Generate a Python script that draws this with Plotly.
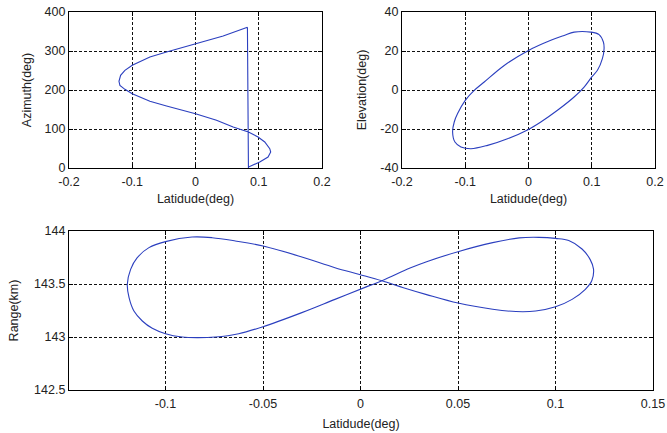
import plotly.graph_objects as go

# Azimuth vs latitude (azimuth wraps 360 -> 0)
lat_az = [0.0821, 0.0837, 0.0837, 0.1016, 0.1147, 0.1189, 0.1174, 0.1095, 0.0989, 0.0837,
          0.0595, 0.0332, 0.0, -0.0458, -0.0721, -0.1, -0.1116, -0.1195,
          -0.121, -0.1184, -0.1116, -0.1, -0.0721, -0.0458, 0.0, 0.0437, 0.0821]
azimuth = [360.7, 0.0, 2.6, 15.4, 28.2, 41.0, 49.6, 66.7, 79.5, 92.3,
           105.1, 122.2, 139.3, 159.0, 171.0, 190.6, 201.7, 212.0,
           222.2, 237.6, 250.4, 263.2, 284.6, 297.4, 318.8, 338.5, 360.7]

# Elevation vs latitude
lat_el = [0.0, 0.0353, 0.0563, 0.0721, 0.0984, 0.1116, 0.1184, 0.1195, 0.1168, 0.109,
          0.1, 0.0879, 0.0721, 0.0458, 0.0195, 0.0, -0.0332, -0.0647, -0.091,
          -0.1068, -0.1163, -0.12, -0.1174, -0.1121, -0.1, -0.0858, -0.07, -0.0384, 0.0]
elevation = [20.3, 25.5, 28.0, 29.7, 29.7, 28.4, 24.6, 21.2, 16.1, 10.1,
             6.7, 1.5, -3.6, -10.4, -16.4, -20.2, -25.0, -28.4, -30.1,
             -29.2, -26.7, -21.5, -16.4, -12.1, -5.3, -0.2, 4.1, 12.6, 20.3]

# Slant range vs latitude (figure-eight)
lat_rng = [0.011, 0.0254, 0.0339, 0.05, 0.0678, 0.0814, 0.0915, 0.1, 0.1068, 0.1136,
           0.1178, 0.1195, 0.1186, 0.1153, 0.1085, 0.1, 0.0898, 0.0797, 0.0678,
           0.05, 0.0339, 0.022, 0.011, -0.0005, -0.0131, -0.0301, -0.05, -0.0642,
           -0.0761, -0.0864, -0.1, -0.1085, -0.1145, -0.1179, -0.1196, -0.1187,
           -0.1162, -0.1119, -0.1068, -0.1, -0.0915, -0.0838, -0.0744, -0.0625,
           -0.05, -0.0301, -0.0131, 0.0039, 0.011]
range_km = [143.53, 143.65, 143.71, 143.805, 143.89, 143.935, 143.94, 143.93, 143.91, 143.83,
            143.73, 143.64, 143.53, 143.45, 143.355, 143.285, 143.245, 143.24, 143.262,
            143.32, 143.40, 143.465, 143.53, 143.59, 143.654, 143.755, 143.858, 143.906,
            143.937, 143.943, 143.90, 143.843, 143.748, 143.638, 143.497, 143.371,
            143.245, 143.151, 143.082, 143.031, 143.0, 142.994, 143.0, 143.031,
            143.097, 143.23, 143.355, 143.48, 143.53]

top_x_ticks = [-0.2, -0.1, 0, 0.1, 0.2]
top_x_text = ["-0.2", "-0.1", "0", "0.1", "0.2"]
az_ticks = [0, 100, 200, 300, 400]
el_ticks = [-40, -20, 0, 20, 40]
el_text = ["-40", "-20", "0", "20", "40"]
bot_x_ticks = [-0.1, -0.05, 0, 0.05, 0.1, 0.15]
bot_x_text = ["-0.1", "-0.05", "0", "0.05", "0.1", "0.15"]
rng_ticks = [142.5, 143, 143.5, 144]
rng_text = ["142.5", "143", "143.5", "144"]

W, H = 667, 433
ML, MR, MT, MB = 69, 12, 12, 43
PW, PH = W - ML - MR, H - MT - MB
LINE = "#2b3fbf"
FONT = dict(family="Liberation Sans, Arial, sans-serif", size=12.5, color="#222222")

fig = go.Figure()
fig.add_trace(go.Scatter(x=lat_az, y=azimuth, mode="lines", line=dict(color=LINE, width=1.1),
                         xaxis="x", yaxis="y", showlegend=False))
fig.add_trace(go.Scatter(x=lat_el, y=elevation, mode="lines",
                         line=dict(color=LINE, width=1.1, shape="spline", smoothing=1.0),
                         xaxis="x2", yaxis="y2", showlegend=False))
fig.add_trace(go.Scatter(x=lat_rng, y=range_km, mode="lines",
                         line=dict(color=LINE, width=1.1, shape="spline", smoothing=1.0),
                         xaxis="x3", yaxis="y3", showlegend=False))


def ax(dom, rng, tv, tt, title, anchor, standoff, lab_off=0):
    return dict(domain=dom, range=rng, tickvals=tv, ticktext=tt, anchor=anchor,
                automargin=False,
                showline=True, linecolor="black", linewidth=1.2, mirror="ticks",
                ticks="inside", ticklen=4, tickcolor="black",
                ticklabelstandoff=lab_off,
                showgrid=True, gridcolor="#111111", gridwidth=0.8, griddash="3px,2px",
                zeroline=False, tickfont=FONT,
                title=dict(text=title, font=FONT, standoff=standoff))


def px_x(a, b):
    return [(a - ML) / PW, (b - ML) / PW]


def px_y(top, bottom):
    return [1 - (bottom - MT) / PH, 1 - (top - MT) / PH]


fig.update_layout(
    width=W, height=H,
    margin=dict(l=ML, r=MR, t=MT, b=MB),
    paper_bgcolor="white", plot_bgcolor="white",
    font=FONT,
    xaxis=ax(px_x(69, 322), [-0.2, 0.2], top_x_ticks, top_x_text, "Latidude(deg)", "y", 6, 2),
    yaxis=ax(px_y(12, 168), [0, 400], az_ticks, [str(v) for v in az_ticks], "Azimuth(deg)", "x", 10),
    xaxis2=ax(px_x(402, 655), [-0.2, 0.2], top_x_ticks, top_x_text, "Latidude(deg)", "y2", 6, 2),
    yaxis2=ax(px_y(12, 168), [-40, 40], el_ticks, el_text, "Elevation(deg)", "x2", 10),
    xaxis3=ax(px_x(69, 653), [-0.1495, 0.15], bot_x_ticks, bot_x_text, "Latidude(deg)", "y3", 9, 2),
    yaxis3=ax(px_y(231, 390), [142.5, 144], rng_ticks, rng_text, "Range(km)", "x3", 12),
)

fig.write_html("out.html")
